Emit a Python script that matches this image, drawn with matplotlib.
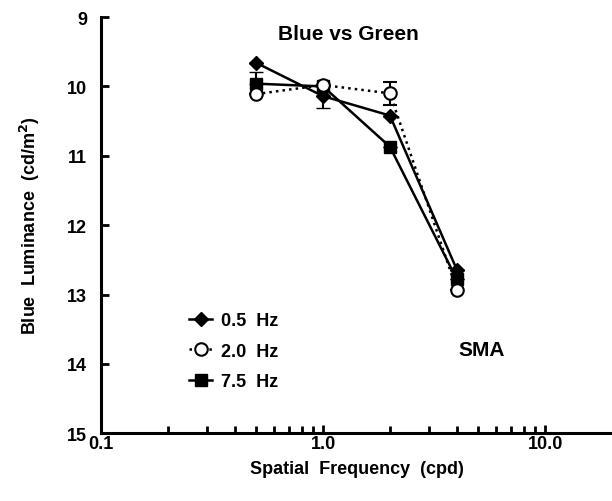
import numpy as np
import matplotlib.pyplot as plt
from matplotlib.lines import Line2D
from matplotlib.ticker import FixedLocator, NullFormatter

plt.rcParams['font.family'] = ['Liberation Sans', 'DejaVu Sans']
plt.rcParams['font.weight'] = 'bold'

freq = [0.5, 1.0, 2.0, 4.0]
lum_05 = [9.66, 10.14, 10.42, 12.64]
lum_20 = [10.11, 9.98, 10.10, 12.93]
lum_75 = [9.96, 10.00, 10.87, 12.78]

# one sided error bars (lower, upper) in data units, as drawn
err_05 = [[0, 0, 0, 0], [0, 0.17, 0, 0]]
err_20 = [[0, 0, 0.17, 0], [0, 0, 0.17, 0]]
err_75 = [[0.17, 0, 0, 0], [0, 0, 0, 0]]

fig = plt.figure(figsize=(6.12, 5.02), dpi=100)
ax = fig.add_axes([0.165, 0.135, 0.835, 0.829])

ax.errorbar(freq, lum_75, yerr=err_75, color='black', lw=1.8, marker='s', ms=8,
            mfc='black', capsize=5, elinewidth=1.5, zorder=2)
ax.errorbar(freq, lum_05, yerr=err_05, color='black', lw=1.8, marker='D', ms=7,
            mfc='black', capsize=5, elinewidth=1.5, zorder=3)
ax.errorbar(freq, lum_20, yerr=err_20, color='black', lw=1.8, ls=':', marker='o', ms=9,
            mfc='white', mew=1.5, capsize=5, elinewidth=1.5, zorder=4)

ax.set_xscale('log')
ax.set_xlim(0.1, 20)
ax.set_ylim(15, 9)
ax.set_yticks([9, 10, 11, 12, 13, 14, 15])
ax.set_xticks([0.1, 1.0, 10.0])
ax.set_xticklabels(['0.1', '1.0', '10.0'])
minors = [m * d for d in (0.1, 1.0) for m in range(2, 10)]
ax.xaxis.set_minor_locator(FixedLocator(minors))
ax.xaxis.set_minor_formatter(NullFormatter())

for s in ['top', 'right']:
    ax.spines[s].set_visible(False)
for s in ['left', 'bottom']:
    ax.spines[s].set_linewidth(2.2)
ax.tick_params(axis='both', which='major', direction='in', length=6, width=2,
               labelsize=13)
ax.tick_params(axis='y', which='major', pad=10)
ax.tick_params(axis='x', which='major', pad=1)
ax.tick_params(axis='x', which='minor', direction='in', length=5, width=2)

ax.set_xlabel('Spatial  Frequency  (cpd)', fontsize=13, fontweight='bold', labelpad=6)
ax.set_ylabel('Blue  Luminance  (cd/m$^\\mathbf{2}$)', fontsize=13, fontweight='bold',
              labelpad=18)

ax.text(1.3, 9.23, 'Blue vs Green', fontsize=15, fontweight='bold', ha='center', va='center')
ax.text(5.2, 13.8, 'SMA', fontsize=15, fontweight='bold', ha='center', va='center')

handles = [
    Line2D([], [], color='black', lw=1.8, marker='D', ms=7, mfc='black'),
    Line2D([], [], color='black', lw=1.8, ls=':', marker='o', ms=9, mfc='white', mew=1.5),
    Line2D([], [], color='black', lw=1.8, marker='s', ms=8, mfc='black'),
]
labels = ['0.5  Hz', '2.0  Hz', '7.5  Hz']
ax.legend(handles, labels, loc='upper left', bbox_to_anchor=(0.14, 0.33),
          frameon=False, fontsize=13, handlelength=1.3, handletextpad=0.5,
          labelspacing=0.75)

fig.savefig('out.png', dpi=100)
